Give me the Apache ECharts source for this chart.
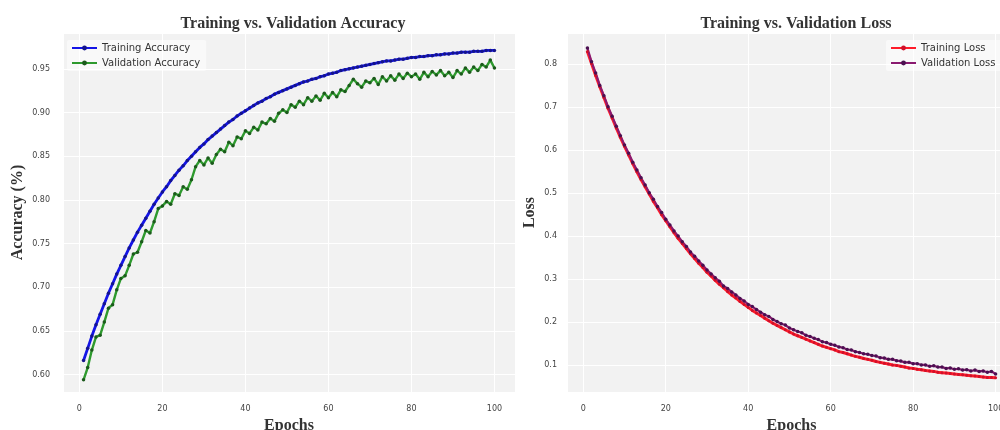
<!DOCTYPE html>
<html>
<head>
<meta charset="utf-8">
<script src="https://cdn.jsdelivr.net/npm/echarts@6/dist/echarts.min.js"></script>
<style>
  html, body { margin: 0; padding: 0; background: #ffffff; overflow: hidden; }
  #chart { width: 1000px; height: 430px; }
</style>
</head>
<body>
<div id="chart"></div>
<script>
// Epoch numbers 1..100
const epochs = [
  1,2,3,4,5,6,7,8,9,10,11,12,13,14,15,16,17,18,19,20,
  21,22,23,24,25,26,27,28,29,30,31,32,33,34,35,36,37,38,39,40,
  41,42,43,44,45,46,47,48,49,50,51,52,53,54,55,56,57,58,59,60,
  61,62,63,64,65,66,67,68,69,70,71,72,73,74,75,76,77,78,79,80,
  81,82,83,84,85,86,87,88,89,90,91,92,93,94,95,96,97,98,99,100
];

const trainAcc = [
  0.616,0.630,0.644,0.657,0.669,0.681,0.693,0.704,0.715,0.725,
  0.735,0.745,0.754,0.763,0.771,0.779,0.787,0.795,0.802,0.809,
  0.815,0.822,0.828,0.834,0.839,0.845,0.850,0.855,0.860,0.864,
  0.869,0.873,0.877,0.881,0.885,0.889,0.892,0.896,0.899,0.902,
  0.905,0.908,0.911,0.913,0.916,0.918,0.921,0.923,0.925,0.927,
  0.929,0.931,0.933,0.935,0.936,0.938,0.939,0.941,0.942,0.944,
  0.945,0.946,0.948,0.949,0.950,0.951,0.952,0.953,0.954,0.955,
  0.956,0.957,0.958,0.959,0.959,0.960,0.961,0.961,0.962,0.963,
  0.963,0.964,0.964,0.965,0.965,0.966,0.966,0.967,0.967,0.968,
  0.968,0.969,0.969,0.969,0.970,0.970,0.970,0.971,0.971,0.971
];

const valAcc = [
  0.594,0.608,0.628,0.643,0.645,0.660,0.676,0.680,0.697,0.710,
  0.713,0.725,0.738,0.740,0.752,0.765,0.762,0.775,0.790,0.793,
  0.798,0.795,0.807,0.805,0.815,0.812,0.823,0.838,0.845,0.840,
  0.848,0.842,0.852,0.858,0.855,0.866,0.862,0.872,0.870,0.879,
  0.876,0.883,0.880,0.889,0.887,0.893,0.890,0.899,0.903,0.900,
  0.909,0.906,0.913,0.909,0.917,0.913,0.919,0.914,0.922,0.917,
  0.923,0.918,0.926,0.924,0.931,0.938,0.933,0.929,0.936,0.934,
  0.939,0.932,0.941,0.936,0.942,0.937,0.944,0.939,0.945,0.941,
  0.944,0.938,0.946,0.941,0.947,0.943,0.948,0.942,0.946,0.940,
  0.948,0.944,0.951,0.946,0.952,0.948,0.955,0.952,0.960,0.951
];

const trainLoss = [
  0.830,0.802,0.774,0.748,0.723,0.698,0.675,0.652,0.630,0.609,
  0.589,0.569,0.550,0.532,0.515,0.498,0.481,0.466,0.450,0.436,
  0.422,0.408,0.395,0.383,0.371,0.359,0.348,0.337,0.327,0.316,
  0.307,0.297,0.288,0.280,0.271,0.263,0.256,0.248,0.241,0.234,
  0.227,0.221,0.215,0.209,0.203,0.197,0.192,0.187,0.182,0.177,
  0.172,0.168,0.164,0.160,0.156,0.152,0.148,0.144,0.141,0.138,
  0.135,0.131,0.129,0.126,0.123,0.120,0.118,0.115,0.113,0.111,
  0.108,0.106,0.104,0.102,0.100,0.099,0.097,0.095,0.093,0.092,
  0.090,0.089,0.087,0.086,0.085,0.083,0.082,0.081,0.080,0.079,
  0.078,0.077,0.076,0.075,0.074,0.073,0.072,0.071,0.071,0.070
];

const valLoss = [
  0.838,0.806,0.780,0.751,0.727,0.701,0.679,0.656,0.634,0.612,
  0.593,0.572,0.554,0.536,0.519,0.501,0.486,0.469,0.455,0.439,
  0.426,0.412,0.400,0.387,0.376,0.363,0.353,0.342,0.332,0.321,
  0.312,0.303,0.295,0.284,0.278,0.270,0.263,0.255,0.249,0.241,
  0.236,0.229,0.223,0.217,0.213,0.206,0.201,0.196,0.193,0.186,
  0.182,0.178,0.175,0.169,0.166,0.162,0.159,0.154,0.152,0.148,
  0.146,0.142,0.140,0.136,0.135,0.131,0.129,0.126,0.125,0.122,
  0.121,0.117,0.116,0.113,0.113,0.110,0.109,0.106,0.106,0.103,
  0.103,0.100,0.100,0.097,0.098,0.095,0.095,0.092,0.093,0.090,
  0.091,0.088,0.089,0.086,0.088,0.085,0.086,0.083,0.085,0.079
];

const pairs = (ys) => epochs.map((e, i) => [e, ys[i]]);

const serif = 'Liberation Serif';
const sans = 'DejaVu Sans';

function xAxisFor(gridIndex) {
  return {
    type: 'value', gridIndex,
    min: -3.95, max: 104.95, splitNumber: 5,
    name: 'Epochs', nameLocation: 'middle', nameGap: 21,
    nameTextStyle: { fontFamily: serif, fontWeight: 'bold', fontSize: 16, color: '#333' },
    axisLine: { show: false }, axisTick: { show: false },
    axisLabel: { showMinLabel: false, showMaxLabel: false, margin: 13,
      fontFamily: sans, fontSize: 8, color: '#444' },
    splitLine: { show: true, lineStyle: { color: '#ffffff', width: 1 } }
  };
}

const chart = echarts.init(document.getElementById('chart'), null, { renderer: 'canvas' });
chart.setOption({
  animation: false,
  backgroundColor: '#ffffff',
  title: [
    { text: 'Training vs. Validation Accuracy', left: 288, top: 11, textAlign: 'center',
      textStyle: { fontFamily: serif, fontWeight: 'bold', fontSize: 16, color: '#333' } },
    { text: 'Training vs. Validation Loss', left: 791, top: 11, textAlign: 'center',
      textStyle: { fontFamily: serif, fontWeight: 'bold', fontSize: 16, color: '#333' } }
  ],
  grid: [
    { left: 63, top: 33, width: 452, height: 359, outerBoundsMode: 'none', containLabel: false,
      show: true, backgroundColor: '#f2f2f2', borderWidth: 0 },
    { left: 567, top: 33, width: 449, height: 359, outerBoundsMode: 'none', containLabel: false,
      show: true, backgroundColor: '#f2f2f2', borderWidth: 0 }
  ],
  legend: [
    { orient: 'vertical', left: 67, top: 40, itemWidth: 25, itemHeight: 6, itemGap: 5,
      padding: [3, 6, 3, 4], backgroundColor: 'rgba(255,255,255,0.55)', borderRadius: 2,
      textStyle: { fontFamily: sans, fontSize: 10, color: '#333' },
      data: ['Training Accuracy', 'Validation Accuracy'] },
    { orient: 'vertical', left: 886, top: 40, itemWidth: 25, itemHeight: 6, itemGap: 5,
      padding: [3, 6, 3, 4], backgroundColor: 'rgba(255,255,255,0.55)', borderRadius: 2,
      textStyle: { fontFamily: sans, fontSize: 10, color: '#333' },
      data: ['Training Loss', 'Validation Loss'] }
  ],
  xAxis: [xAxisFor(0), xAxisFor(1)],
  yAxis: [
    { type: 'value', gridIndex: 0, min: 0.580, max: 0.991, splitNumber: 8,
      name: 'Accuracy (%)', nameLocation: 'middle', nameGap: 37, nameRotate: 90,
      nameTextStyle: { fontFamily: serif, fontWeight: 'bold', fontSize: 16, color: '#333' },
      axisLine: { show: false }, axisTick: { show: false },
      axisLabel: { showMinLabel: false, showMaxLabel: false, margin: 13,
        fontFamily: sans, fontSize: 8, color: '#444', formatter: (v) => v.toFixed(2) },
      splitLine: { show: true, lineStyle: { color: '#ffffff', width: 1 } } },
    { type: 'value', gridIndex: 1, min: 0.037, max: 0.873, splitNumber: 8,
      name: 'Loss', nameLocation: 'middle', nameGap: 29, nameRotate: 90,
      nameTextStyle: { fontFamily: serif, fontWeight: 'bold', fontSize: 16, color: '#333' },
      axisLine: { show: false }, axisTick: { show: false },
      axisLabel: { showMinLabel: false, showMaxLabel: false, margin: 10,
        fontFamily: sans, fontSize: 8, color: '#444', formatter: (v) => v.toFixed(1) },
      splitLine: { show: true, lineStyle: { color: '#ffffff', width: 1 } } }
  ],
  series: [
    { name: 'Training Accuracy', type: 'line', xAxisIndex: 0, yAxisIndex: 0,
      data: pairs(trainAcc), symbol: 'circle', symbolSize: 3.5,
      lineStyle: { color: '#1414e6', width: 2.8 }, itemStyle: { color: '#14148c' } },
    { name: 'Validation Accuracy', type: 'line', xAxisIndex: 0, yAxisIndex: 0,
      data: pairs(valAcc), symbol: 'circle', symbolSize: 3.5,
      lineStyle: { color: '#2e9a2e', width: 2.4 }, itemStyle: { color: '#1c5a1c' } },
    { name: 'Training Loss', type: 'line', xAxisIndex: 1, yAxisIndex: 1,
      data: pairs(trainLoss), symbol: 'circle', symbolSize: 3,
      lineStyle: { color: '#ff1c2a', width: 3 }, itemStyle: { color: '#d0102a' } },
    { name: 'Validation Loss', type: 'line', xAxisIndex: 1, yAxisIndex: 1,
      data: pairs(valLoss), symbol: 'circle', symbolSize: 3.5,
      lineStyle: { color: '#8a1a70', width: 2.2 }, itemStyle: { color: '#4a1050' } }
  ]
});
</script>
</body>
</html>
